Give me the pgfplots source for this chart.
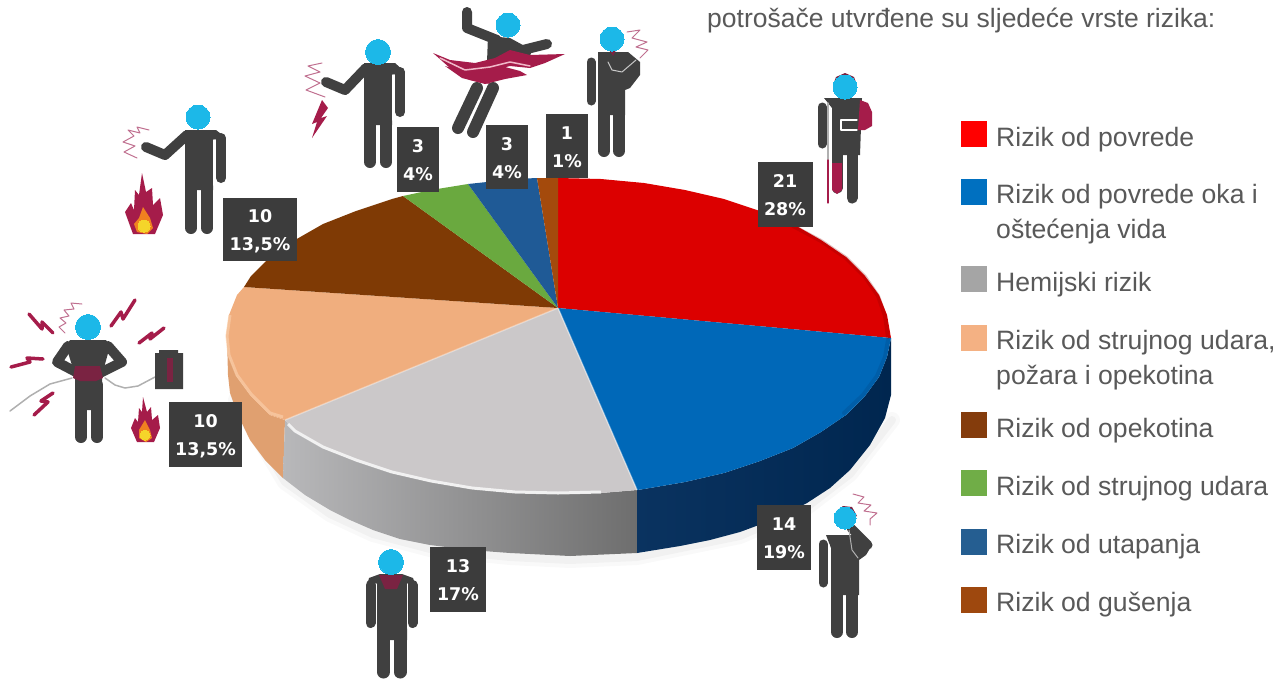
\documentclass[border=0pt]{standalone}
\usepackage{fontspec}
\usepackage{pgfplots}
\pgfplotsset{compat=1.18}
\setmainfont{Liberation Sans}
\newfontfamily\boxfont{DejaVu Sans}
\definecolor{bodyc}{HTML}{404040}
\definecolor{headc}{HTML}{1CB8E8}
\definecolor{maro}{HTML}{A51C4A}
\definecolor{maroD}{HTML}{7A2342}
\definecolor{labelbg}{HTML}{3C3C3C}
\definecolor{txt}{HTML}{595959}
\definecolor{cRed}{HTML}{DC0000}
\definecolor{cBlue}{HTML}{0068B8}
\definecolor{cGray}{HTML}{CBC8C9}
\definecolor{cPeach}{HTML}{F0AE7E}
\definecolor{cBrown}{HTML}{7F3A05}
\definecolor{cGreen}{HTML}{6AA93F}
\definecolor{cDk}{HTML}{1F5A96}
\definecolor{cRust}{HTML}{A44A0C}
\definecolor{squig}{HTML}{C07090}
\definecolor{HTMLa}{HTML}{E0A070}
\definecolor{HTMLb}{HTML}{B8B8BA}
\definecolor{HTMLc}{HTML}{9A9A9A}
\definecolor{HTMLd}{HTML}{6E6E6E}
\definecolor{HTMLe}{HTML}{0A3360}
\definecolor{HTMLf}{HTML}{00264F}
\definecolor{HTMLg}{HTML}{F9CDA8}
\definecolor{HTMLh}{HTML}{8A0000}
\definecolor{HTMLi}{HTML}{003A70}
\definecolor{HTMLj}{HTML}{B0B0B0}
\definecolor{HTMLk}{HTML}{F08020}
\definecolor{HTMLl}{HTML}{F5D52A}
\definecolor{HTMLm}{HTML}{C8C8C8}
\definecolor{HTMLn}{HTML}{FF0000}
\definecolor{HTMLo}{HTML}{0070C0}
\definecolor{HTMLp}{HTML}{A5A5A5}
\definecolor{HTMLq}{HTML}{F4B183}
\definecolor{HTMLr}{HTML}{843C0C}
\definecolor{HTMLs}{HTML}{70AD47}
\definecolor{HTMLt}{HTML}{255E91}
\definecolor{HTMLu}{HTML}{9E480E}
\definecolor{ribbonl}{HTML}{F0B8C8}
\newcommand\area[2]{\addplot[fill=#1,draw=none,no markers,forget plot] coordinates {#2};}
\newcommand\limb[3]{\addplot[draw=#1,line width=#2,line cap=round,line join=round,no markers,forget plot] coordinates {#3};}
\newcommand\head[3]{\addplot[only marks,mark=*,mark size=#3,mark options={draw=headc,fill=headc,line width=0pt},forget plot] coordinates {(#1,#2)};}
\newcommand\legsq[3]{\addplot[only marks,mark=square*,mark size=12.5,mark options={draw=#1,fill=#1,line width=0pt},forget plot] coordinates {(#2,#3)};}
\newcommand\ltext[2]{\node[anchor=base west,inner sep=0pt,text=txt,font=\fontsize{26.6}{30}\selectfont] at (axis cs:996,#1) {#2};}
\newcommand\lab[8]{%
  \area{labelbg}{(#1,#3)(#2,#3)(#2,#4)(#1,#4)}
  \node[anchor=base,inner sep=0pt,text=white,font=\boxfont\bfseries\fontsize{17.5}{20}\selectfont] at (axis cs:#5,#6) {#7};
  \node[anchor=base,inner sep=0pt,text=white,font=\boxfont\bfseries\fontsize{17.5}{20}\selectfont] at (axis cs:#5,#6+28) {#8};
}
\begin{document}
\begin{tikzpicture}
\begin{axis}[scale only axis,width=1284pt,height=681pt,xmin=0,xmax=1284,ymin=0,ymax=681,y dir=reverse,hide axis]
\path (axis cs:0,0) rectangle (axis cs:1284,681);
% soft shadow
\addplot[draw=black,opacity=0.025,line width=16pt,line cap=round,line join=round,no markers,forget plot] coordinates {(236,400)(285,482)(330,514)(373,534)(430,549)(510,557)(570,560)(637,557)(740,536)(807,507)(850,474)(892,420)};
\addplot[draw=black,opacity=0.03,line width=8pt,line cap=round,line join=round,no markers,forget plot] coordinates {(236,400)(285,482)(330,514)(373,534)(430,549)(510,557)(570,560)(637,557)(740,536)(807,507)(850,474)(892,420)};
% ---- walls
\addplot[left color=HTMLa,right color=HTMLa,draw=none,no markers,forget plot] coordinates {(285,420)(270,415)(251,396)(237,377)(229,357)(227,338)(228,375)(230,393)(238,415)(250,440)(265,460)(283,478)};
\addplot[left color=HTMLb,middle color=HTMLc,right color=HTMLd,draw=none,no markers,forget plot] coordinates {(637,490)(601,493)(558,494)(515,493)(472,489)(431,482)(392,473)(356,461)(323,448)(295,432)(285,420)(283,478)(305,495)(330,510)(350,520)(373,530)(400,539)(430,545)(470,550)(510,553)(570,556)(637,553)};
\addplot[left color=HTMLe,right color=HTMLf,draw=none,no markers,forget plot] coordinates {(891,338)(887,357)(879,377)(865,396)(846,415)(821,432)(793,448)(760,461)(724,473)(685,482)(644,489)(637,490)(637,553)(680,546)(710,540)(740,532)(775,519)(807,503)(830,488)(850,470)(870,445)(885,418)(891,395)};
% ---- top slices: values 21, 14, 13, 10, 10, 3, 3, 1
\area{cRed}{(558,308)(558,178)(601,179)(644,183)(685,190)(724,199)(760,211)(793,224)(821,240)(846,257)(865,276)(879,295)(887,315)(891,338)}
\area{cBlue}{(558,308)(891,338)(887,357)(879,377)(865,396)(846,415)(821,432)(793,448)(760,461)(724,473)(685,482)(644,489)(637,490)}
\area{cGray}{(558,308)(637,490)(601,493)(558,494)(515,493)(472,489)(431,482)(392,473)(356,461)(323,448)(295,432)(285,420)}
\area{cPeach}{(558,308)(285,420)(270,415)(251,396)(237,377)(229,357)(226,336)(229,315)(237,295)(244,287)}
\area{cBrown}{(558,308)(244,287)(251,276)(270,257)(295,240)(323,224)(356,211)(392,199)(403,196)}
\area{cGreen}{(558,308)(403,196)(431,190)(468,184)}
\area{cDk}{(558,308)(468,184)(515,179)(537,178)}
\area{cRust}{(558,308)(537,178)(558,178)}
% rim highlights
\addplot[draw=white,opacity=0.75,line width=3pt,no markers,forget plot] coordinates {(288,424)(295,431)(323,447)(356,460)(392,472)(431,481)(472,488)(515,492)(558,493)(601,492)};
\addplot[draw=HTMLg,opacity=0.7,line width=3pt,no markers,forget plot] coordinates {(283,417)(270,413)(251,394)(237,375)(229,355)(227,336)(230,315)};
\addplot[draw=HTMLh,opacity=0.25,line width=4pt,line cap=round,no markers,forget plot] coordinates {(793,226)(821,241)(846,258)(865,277)(878,296)(885,316)(888,337)};
\addplot[draw=HTMLi,opacity=0.2,line width=4pt,line cap=round,no markers,forget plot] coordinates {(888,340)(885,357)(877,376)(863,395)(844,413)};
\addplot[draw=white,opacity=0.45,line width=1.5pt,no markers,forget plot] coordinates {(558,308)(637,490)};
\addplot[draw=white,opacity=0.35,line width=1.5pt,no markers,forget plot] coordinates {(558,308)(285,420)};
% ---- person: 13 / 17%
\head{391}{562}{12.5}
\area{bodyc}{(366,590)(369,578)(380,574)(402,574)(413,578)(417,590)(407,590)(407,640)(377,640)(377,590)}
\limb{white}{1.5pt}{(376,584)(376,628)}
\limb{white}{1.5pt}{(407.5,584)(407.5,628)}
\limb{bodyc}{10pt}{(370.5,585)(370.5,623)}
\limb{bodyc}{10pt}{(412.5,585)(412.5,623)}
\limb{bodyc}{13pt}{(383.5,625)(383.5,672)}
\limb{bodyc}{13pt}{(400,625)(400,672)}
\area{maroD}{(379,575)(403,575)(397,589)(385,589)}
% ---- person: electric, left
\head{88}{327}{12.5}
\area{bodyc}{(70,340)(106,340)(110,346)(102,375)(103,410)(75,410)(75,375)(66,346)}
\limb{bodyc}{10pt}{(68,346)(57,362)(78,373)}
\limb{bodyc}{10pt}{(108,346)(122,362)(100,373)}
\limb{bodyc}{12pt}{(81,385)(81,437)}
\limb{bodyc}{12pt}{(97,385)(97,437)}
\area{maroD}{(75,366)(100,366)(103,378)(96,381)(80,381)(73,378)}
\limb{HTMLj}{1.5pt}{(10,411)(30,396)(50,384)(72,378)}
\limb{HTMLj}{1.5pt}{(105,378)(115,385)(125,388)(138,386)(155,377)}
\area{bodyc}{(155,353)(159,353)(159,350)(178,350)(178,353)(183,353)(183,389)(155,389)}
\area{maroD}{(167,358)(173,358)(173,382)(167,382)}
\limb{maro}{3.5pt}{(29,314)(42,329)(42,322)(53,333)}
\limb{maro}{3.5pt}{(111,326)(121,312)(123,319)(135,300)}
\limb{maro}{3.5pt}{(139,343)(152,333)(150,339)(164,328)}
\limb{maro}{3.5pt}{(11,367)(30,362)(27,358)(43,359)}
\limb{maro}{3.5pt}{(34,415)(48,402)(41,401)(53,393)}
\limb{squig}{1pt}{(65,333)(59,327)(66,323)(60,318)(69,316)(64,310)(74,309)(71,303)(82,304)}
\area{maro}{(143,397)(147,412)(151,407)(152,420)(158,415)(160,428)(154,442)(137,442)(131,428)(135,418)(138,422)(139,408)(142,412)}
\area{HTMLk}{(145,420)(150,430)(152,438)(146,442)(139,438)(139,430)}
\addplot[only marks,mark=*,mark size=5,mark options={draw=HTMLl,fill=HTMLl,line width=0pt},forget plot] coordinates {(145,435)};
% ---- person: 10 upper
\head{198}{117}{12}
\area{bodyc}{(185,130)(216,130)(225,137)(213,140)(213,190)(185,190)(185,145)}
\limb{bodyc}{10pt}{(221,138)(221,178)}
\limb{white}{1.5pt}{(214,140)(214,185)}
\limb{bodyc}{10pt}{(187,135)(165,155)(146,147)}
\limb{bodyc}{12pt}{(191,185)(191,228)}
\limb{bodyc}{12pt}{(207,185)(207,228)}
\limb{squig}{1pt}{(137,158)(124,152)(135,146)(123,142)(134,136)(128,130)(140,133)(137,127)(149,130)}
\area{maro}{(142,173)(146,192)(152,188)(153,205)(160,198)(163,215)(155,234)(133,234)(125,212)(131,203)(134,210)(135,190)(139,195)}
\area{HTMLk}{(143,207)(150,218)(153,228)(147,234)(137,232)(134,224)(139,218)}
\addplot[only marks,mark=*,mark size=6,mark options={draw=HTMLl,fill=HTMLl,line width=0pt},forget plot] coordinates {(144,226)};
% ---- person: 3 left
\head{378}{52}{12.5}
\area{bodyc}{(364,63)(395,63)(405,72)(392,75)(392,125)(364,125)(364,78)}
\limb{bodyc}{10pt}{(400,72)(400,112)}
\limb{white}{1.5pt}{(393,75)(393,120)}
\limb{bodyc}{10pt}{(366,68)(345,90)(326,82)}
\limb{bodyc}{12pt}{(370,118)(370,162)}
\limb{bodyc}{12pt}{(386,118)(386,162)}
\limb{squig}{1pt}{(325,97)(306,90)(320,83)(305,76)(320,72)(308,66)(322,63)}
\area{maro}{(322,100)(328,108)(321,118)(327,116)(312,138)(317,122)(312,124)}
% ---- person: flying
\head{508}{25}{12}
\area{bodyc}{(488,36)(510,38)(532,50)(528,62)(487,62)}
\limb{bodyc}{10pt}{(467,12)(467,28)(497,40)}
\limb{bodyc}{10pt}{(523,50)(547,44)}
\limb{bodyc}{12pt}{(477,88)(458,128)}
\limb{bodyc}{12pt}{(493,88)(473,132)}
\area{maro}{(433,53)(450,60)(475,63)(495,58)(510,50)(530,55)(565,54)(545,63)(530,68)(510,66)(495,70)(475,75)(490,84)(470,80)(450,68)}
\area{maro}{(445,66)(465,72)(485,70)(505,67)(520,71)(527,75)(505,79)(485,84)(462,78)}
\limb{ribbonl}{1.5pt}{(440,58)(465,70)(490,67)(510,62)(530,66)}
% ---- person: 1
\head{612}{39}{12}
\area{bodyc}{(598,52)(628,52)(640,62)(640,75)(630,88)(625,90)(625,115)(598,115)(598,65)}
\limb{bodyc}{9pt}{(591,62)(591,101)}
\limb{white}{1.5pt}{(597,65)(597,105)}
\limb{bodyc}{12pt}{(604,108)(604,151)}
\limb{bodyc}{12pt}{(619,108)(619,151)}
\limb{HTMLm}{1pt}{(608,62)(612,70)(622,72)(636,60)}
\area{maroD}{(609,50)(616,50)(613,56)}
\limb{squig}{1pt}{(627,32)(640,30)(632,38)(647,42)(636,47)(648,50)(640,58)}
% ---- person: 21
\head{845}{87}{12}
\area{maroD}{(833,85)(836,77)(845,73)(854,77)(857,85)}
\area{bodyc}{(824,98)(862,98)(860,155)(832,155)(832,108)}
\limb{bodyc}{9pt}{(822,107)(822,144)}
\area{maro}{(860,100)(868,103)(872,112)(872,126)(865,130)(858,130)}
\limb{white}{1.3pt}{(857,120)(841,120)(841,130)(857,130)}
\limb{bodyc}{11pt}{(837,150)(837,188)}
\limb{bodyc}{11pt}{(852,150)(852,198)}
\area{maro}{(832,163)(842,163)(842,190)(837,194)(832,190)}
\limb{HTMLj}{1.3pt}{(828,103)(828,160)}
\limb{maro}{1.3pt}{(828,160)(828,203)}
% ---- person: 14
\head{845}{518}{11}
\area{maroD}{(836,512)(843,506)(852,507)(857,516)(848,520)}
\area{bodyc}{(826,535)(862,535)(872,545)(866,555)(859,560)(859,595)(831,595)(831,548)}
\limb{bodyc}{9pt}{(823,544)(823,583)}
\limb{bodyc}{9pt}{(868,545)(851,528)}
\limb{white}{1.3pt}{(829,545)(829,590)}
\limb{HTMLj}{1pt}{(849,530)(852,550)(858,558)}
\limb{bodyc}{12pt}{(837,590)(837,632)}
\limb{bodyc}{12pt}{(852,590)(852,632)}
\limb{squig}{1pt}{(853,494)(864,497)(858,503)(871,505)(864,511)(877,513)(870,519)(870,525)}
% ---- data labels
\lab{758}{813}{162}{227}{785}{187}{21}{28\%}
\lab{757}{811}{505}{570}{784}{530}{14}{19\%}
\lab{430}{486}{547}{612}{458}{572}{13}{17\%}
\lab{169}{242}{402}{467}{205.5}{427}{10}{13,5\%}
\lab{223}{297}{198}{261}{260}{222}{10}{13,5\%}
\lab{397}{439}{127}{192}{418}{152}{3}{4\%}
\lab{486}{528}{125}{189}{507}{150}{3}{4\%}
\lab{546}{588}{114}{178}{567}{139}{1}{1\%}
% ---- legend
\legsq{HTMLn}{973.5}{133.5}
\legsq{HTMLo}{973.5}{191.5}
\legsq{HTMLp}{973.5}{278.5}
\legsq{HTMLq}{973.5}{337.5}
\legsq{HTMLr}{973.5}{424.5}
\legsq{HTMLs}{973.5}{482.5}
\legsq{HTMLt}{973.5}{541.5}
\legsq{HTMLu}{973.5}{599.5}
\ltext{146}{Rizik od povrede}
\ltext{203}{Rizik od povrede oka i}
\ltext{238}{oštećenja vida}
\ltext{291}{Hemijski rizik}
\ltext{349}{Rizik od strujnog udara,}
\ltext{384}{požara i opekotina}
\ltext{437}{Rizik od opekotina}
\ltext{495}{Rizik od strujnog udara}
\ltext{553}{Rizik od utapanja}
\ltext{611}{Rizik od gušenja}
\node[anchor=base west,inner sep=0pt,text=txt,font=\fontsize{26.5}{30}\selectfont] at (axis cs:707,27) {potrošače utvrđene su sljedeće vrste rizika:};
\end{axis}
\end{tikzpicture}
\end{document}
